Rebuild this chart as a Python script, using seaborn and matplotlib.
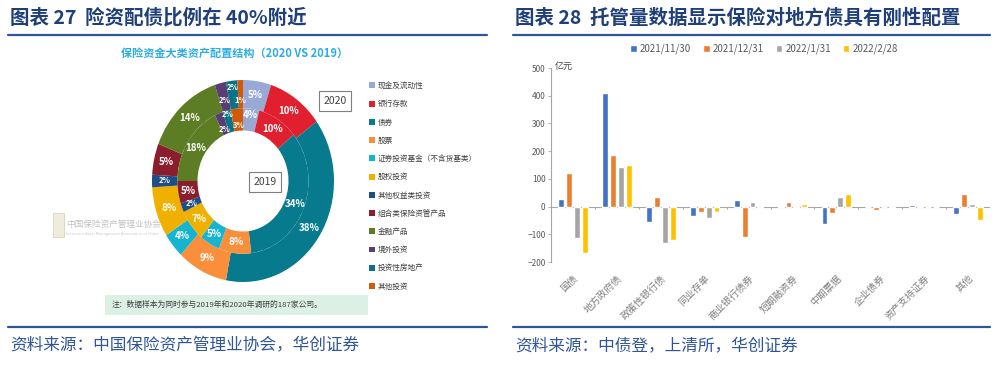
import numpy as np
import pandas as pd
import matplotlib.pyplot as plt
import seaborn as sns
from matplotlib.patches import Patch, Rectangle
from matplotlib.lines import Line2D

# left panel: asset allocation of insurance funds (%), 2020 outer ring, 2019 inner ring
assets = ["现金及流动性", "银行存款", "债券", "股票", "证券投资基金（不含货基类）", "股权投资",
          "其他权益类投资", "组合类保险资管产品", "金融产品", "境外投资", "投资性房地产", "其他投资"]
share_2020 = [5, 10, 38, 9, 4, 8, 2, 5, 14, 2, 2, 1]
share_2019 = [4, 10, 34, 8, 5, 7, 2, 5, 18, 2, 2, 3]
asset_colors = ["#98A9D6", "#E1202F", "#077A8E", "#F98E3B", "#15B4D1", "#F0B000",
                "#1F4E87", "#8A1E2C", "#5C7D24", "#5A3C74", "#0B7388", "#D25A07"]

# right panel: monthly change of insurance custody holdings (亿元)
bond_types = ["国债", "地方政府债", "政策性银行债", "同业存单", "商业银行债券",
              "短期融资券", "中期票据", "企业债券", "资产支持证券", "其他"]
dates = ["2021/11/30", "2021/12/31", "2022/1/31", "2022/2/28"]
chg_2021_11 = [27, 410, -55, -35, 23, 1, -64, -3, 6, -26]
chg_2021_12 = [120, 185, 36, -18, -109, 16, -24, -13, 1, 44]
chg_2022_01 = [-112, 142, -130, -42, 16, -6, 36, 0, 0, 8]
chg_2022_02 = [-166, 150, -120, -20, -5, 8, 44, -4, 0, -47]
bar_colors = ["#4472C4", "#ED7D31", "#A5A5A5", "#FFC000"]

sns.set_theme(style="white")
plt.rcParams["font.family"] = ["Noto Sans CJK SC", "DejaVu Sans"]

navy = "#1F3F78"
line_c = "#2E5597"

fig = plt.figure(figsize=(10, 3.65), dpi=100)

def fy(py):
    return 1 - py / 365

# headers, rules and sources
fig.text(0.010, fy(18), "图表 27  险资配债比例在 40%附近", color=navy, fontsize=14,
         fontweight="bold", va="center")
fig.text(0.515, fy(18), "图表 28  托管量数据显示保险对地方债具有刚性配置", color=navy,
         fontsize=14, fontweight="bold", va="center")
for x0, x1 in [(0.008, 0.487), (0.513, 0.990)]:
    fig.add_artist(Line2D([x0, x1], [fy(35)] * 2, color=line_c, lw=1.6))
    fig.add_artist(Line2D([x0, x1], [fy(327)] * 2, color=line_c, lw=1.6))
fig.text(0.010, fy(346), "资料来源：中国保险资产管理业协会，华创证券", color=line_c,
         fontsize=12, style="italic", va="center")
fig.text(0.515, fy(346), "资料来源：中债登，上清所，华创证券", color=line_c,
         fontsize=12, style="italic", va="center")

# ---- donut chart ----
fig.text(0.235, fy(53), "保险资金大类资产配置结构（2020 VS 2019）", color="#2AADE3",
         fontsize=8, fontweight="bold", ha="center", va="center")

ax1 = fig.add_axes([0.152, fy(282), 0.182, 202 / 365])
lbl = dict(color="white", fontsize=7, fontweight="bold")
_, _, pct_out = ax1.pie(share_2020, radius=1.0, colors=asset_colors, startangle=90,
                        counterclock=False, wedgeprops=dict(width=0.28, linewidth=0),
                        autopct="%.0f%%", pctdistance=0.86, textprops=lbl)
_, _, pct_in = ax1.pie(share_2019, radius=0.72, colors=asset_colors, startangle=90,
                       counterclock=False, wedgeprops=dict(width=0.22, linewidth=0),
                       autopct="%.0f%%", pctdistance=0.85, textprops=lbl)
# the crowded slices near the top: smaller labels, staggered radially
for t, v in zip(list(pct_out) + list(pct_in), share_2020 + share_2019):
    if v <= 3:
        t.set_fontsize(5.5)
stagger_out = {9: 0.955, 10: 1.08, 11: 0.93}
stagger_in = {9: 0.90, 10: 1.11, 11: 0.90, 0: 1.08}
for texts, stagger in [(pct_out, stagger_out), (pct_in, stagger_in)]:
    for i, k in stagger.items():
        x, y = texts[i].get_position()
        texts[i].set_position((x * k, y * k))
ax1.set_aspect("auto")
ax1.set_xlim(-1, 1)
ax1.set_ylim(-1, 1)

box = dict(boxstyle="square,pad=0.45", facecolor="white", edgecolor="#7F7F7F", lw=0.8)
fig.text(0.335, fy(101), "2020", fontsize=7.5, color="#404040", ha="center", va="center", bbox=box)
fig.text(0.265, fy(182), "2019", fontsize=7.5, color="#404040", ha="center", va="center", bbox=box)

# watermark
fig.add_artist(Rectangle((0.053, fy(237)), 0.011, 24 / 365, transform=fig.transFigure,
                         facecolor="#EDE6D2", edgecolor="#D8CBA6", lw=0.6, alpha=0.8))
fig.text(0.066, fy(224), "中国保险资产管理业协会", color="#B8B8B8", fontsize=6.2,
         va="center", alpha=0.85)
fig.text(0.066, fy(234), "Insurance Asset Management Association of China", color="#C8C8C8",
         fontsize=2.8, va="center")

handles1 = [Patch(facecolor=c, edgecolor="none") for c in asset_colors]
fig.legend(handles1, assets, loc="upper left", bbox_to_anchor=(0.366, fy(79)),
           frameon=False, fontsize=5.5, labelcolor="#404040", handlelength=0.8,
           handleheight=0.8, handletextpad=0.3, labelspacing=1.34, borderaxespad=0)

fig.add_artist(Rectangle((0.105, fy(315)), 0.263, 20 / 365, transform=fig.transFigure,
                         facecolor="#DCF0E6", edgecolor="none"))
fig.text(0.112, fy(305), "注：数据样本为同时参与2019年和2020年调研的187家公司。",
         fontsize=5.6, color="#404040", va="center")

# ---- grouped bar chart ----
df = pd.DataFrame({"bond": bond_types * 4,
                   "date": np.repeat(dates, len(bond_types)),
                   "value": chg_2021_11 + chg_2021_12 + chg_2022_01 + chg_2022_02})

ax2 = fig.add_axes([0.551, fy(262), 0.439, 194 / 365])
sns.barplot(data=df, x="bond", y="value", hue="date", hue_order=dates, palette=bar_colors,
            saturation=1, width=0.72, gap=0.25, ax=ax2)
handles2, labels2 = ax2.get_legend_handles_labels()
ax2.get_legend().remove()
fig.legend(handles2, labels2, loc="center", bbox_to_anchor=(0.764, fy(49)), ncol=4,
           frameon=False, fontsize=7, labelcolor="#595959", handlelength=0.7,
           handleheight=0.7, handletextpad=0.3, columnspacing=1.2)

ax2.set_ylim(-200, 500)
ax2.set_yticks(range(-200, 501, 100))
ax2.set_xlim(-0.5, len(bond_types) - 0.5)
ax2.set_xlabel("")
ax2.set_ylabel("")
for s in ["top", "right", "bottom"]:
    ax2.spines[s].set_visible(False)
ax2.spines["left"].set_color("#A6A6A6")
ax2.spines["left"].set_linewidth(0.8)
ax2.axhline(0, color="#A6A6A6", lw=0.8, zorder=0)
ax2.vlines(np.arange(1, len(bond_types)) - 0.5, -10, 0, color="#A6A6A6", lw=0.8)
ax2.tick_params(axis="y", labelsize=6, labelcolor="#595959", length=2, width=0.6,
                color="#A6A6A6", left=True, pad=2)
ax2.tick_params(axis="x", length=0, pad=8)
ax2.set_xticks(range(len(bond_types)))
ax2.set_xticklabels(bond_types, rotation=45, ha="right", rotation_mode="anchor",
                    fontsize=7, color="#7F7F7F")
fig.text(0.555, fy(66), "亿元", fontsize=6.5, color="#404040", va="center")

fig.savefig("out.png", dpi=100)
